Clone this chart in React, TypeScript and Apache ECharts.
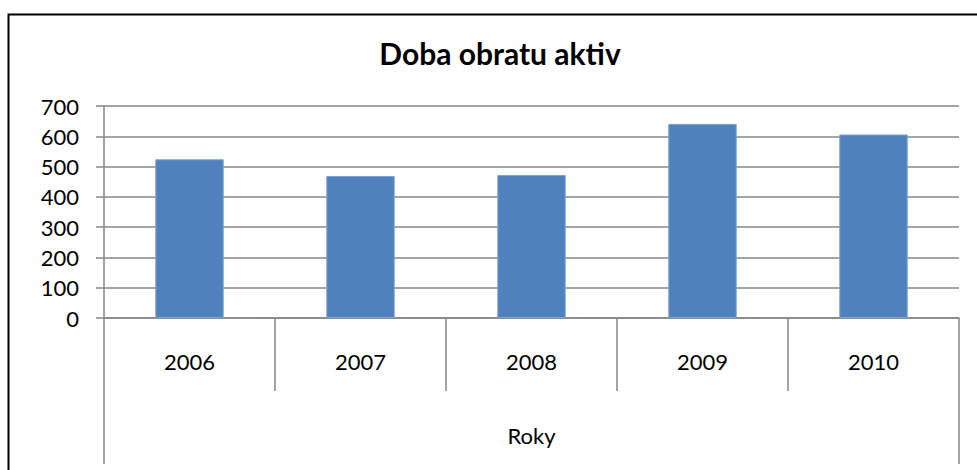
import React, { useEffect, useRef } from "react";
import * as echarts from "echarts";

const title = "Doba obratu aktiv";
const categories = ["2006", "2007", "2008", "2009", "2010"];
const values = [524, 469, 472, 641, 606];
const axisTitle = ["Roky"];
const yTicks = { min: 0, max: 700, interval: 100 };

const FONT = "Lato, 'Open Sans', sans-serif";
const GRAY = "#868686";

export default function App() {
  const ref = useRef<HTMLDivElement>(null);
  useEffect(() => {
    if (!ref.current) return;
    const chart = echarts.init(ref.current, undefined, { renderer: "svg" });
    chart.setOption({
      animation: false,
      backgroundColor: "#ffffff",
      title: {
        text: title,
        left: 495,
        top: 33,
        textAlign: "center",
        textStyle: { fontFamily: FONT, fontSize: 30, fontWeight: "bold", color: "#000" },
      },
      graphic: [
        {
          type: "rect",
          shape: { x: 8.5, y: 14.5, width: 990, height: 470 },
          style: { fill: "none", stroke: "#000", lineWidth: 2 },
          silent: true,
        },
      ],
      grid: { left: 104, right: 18, top: 106, bottom: 152, containLabel: false },
      xAxis: [
        {
          type: "category",
          data: categories,
          position: "bottom",
          axisLine: { show: true, lineStyle: { color: GRAY, width: 1.5 } },
          axisTick: { show: true, length: 73, lineStyle: { color: GRAY, width: 1.5 } },
          axisLabel: { fontFamily: FONT, fontSize: 22, color: "#000", margin: 32 },
          splitLine: { show: false },
        },
        {
          type: "category",
          data: axisTitle,
          position: "bottom",
          offset: 73,
          axisLine: { show: false },
          axisTick: { show: true, length: 73, lineStyle: { color: GRAY, width: 1.5 } },
          axisLabel: { fontFamily: FONT, fontSize: 22, color: "#000", margin: 33 },
          splitLine: { show: false },
        },
      ],
      yAxis: {
        type: "value",
        min: yTicks.min,
        max: yTicks.max,
        interval: yTicks.interval,
        axisLine: { show: true, lineStyle: { color: GRAY, width: 1.5 } },
        axisTick: { show: true, length: 8, lineStyle: { color: GRAY, width: 1.5 } },
        axisLabel: { fontFamily: FONT, fontSize: 22, color: "#000", margin: 25 },
        splitLine: { show: true, lineStyle: { color: GRAY, width: 1.5 } },
      },
      series: [
        {
          type: "bar",
          xAxisIndex: 0,
          data: values,
          barWidth: "40%",
          itemStyle: { color: "#4F81BD", borderColor: "#7aa3d4", borderWidth: 1 },
        },
      ],
    });
    return () => chart.dispose();
  }, []);
  return (
    <div
      ref={ref}
      style={{ position: "fixed", left: 0, top: 0, width: 977, height: 470 }}
    />
  );
}
